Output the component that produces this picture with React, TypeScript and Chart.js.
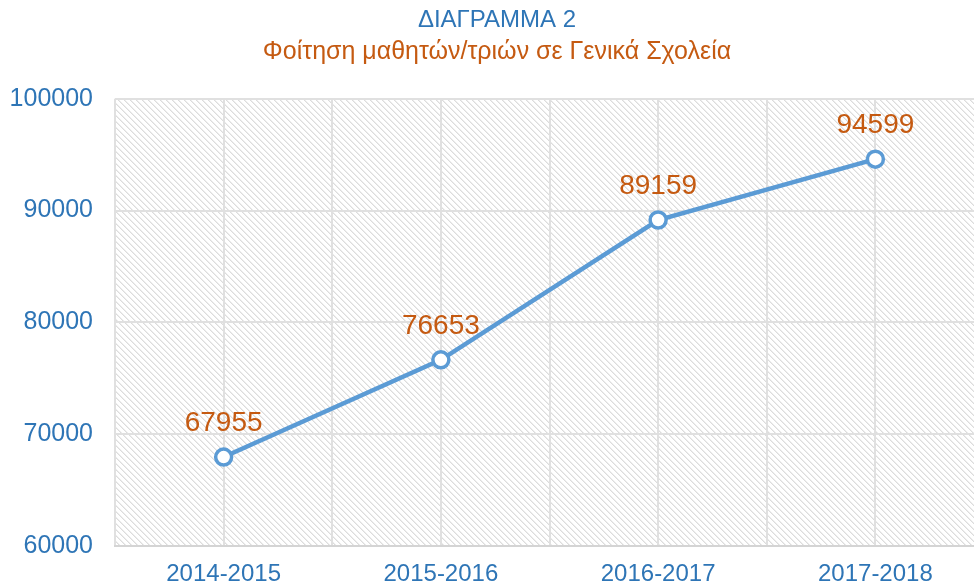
import React, { useEffect, useRef } from "react";
import { Chart, registerables } from "chart.js";

Chart.register(...registerables);

const categories = ["2014-2015", "2015-2016", "2016-2017", "2017-2018"];
const students = [67955, 76653, 89159, 94599];
const yTicks = [60000, 70000, 80000, 90000, 100000];
const titleText = "ΔΙΑΓΡΑΜΜΑ 2";
const subtitleText = "Φοίτηση μαθητών/τριών σε Γενικά Σχολεία";

const FONT = "'Liberation Sans', Arial, sans-serif";
const BLUE = "#2e75b6";
const ORANGE = "#c55a11";
const LINE = "#5b9bd5";

function makePattern(ctx: CanvasRenderingContext2D) {
  const s = 6;
  const c = document.createElement("canvas");
  c.width = s;
  c.height = s;
  const p = c.getContext("2d")!;
  p.fillStyle = "#ffffff";
  p.fillRect(0, 0, s, s);
  for (let i = 0; i < s; i++) {
    p.fillStyle = "#dcdcdc";
    p.fillRect(i, i, 1, 1);
    p.fillStyle = "#ededed";
    p.fillRect((i + 1) % s, i, 1, 1);
  }
  return ctx.createPattern(c, "repeat");
}

const bgPlugin = {
  id: "hatchBg",
  beforeDraw(chart: any) {
    const { ctx, chartArea } = chart;
    const pat = makePattern(ctx);
    ctx.save();
    ctx.fillStyle = pat || "#fff";
    ctx.fillRect(chartArea.left, chartArea.top, chartArea.right - chartArea.left, chartArea.bottom - chartArea.top);
    ctx.restore();
  },
};

const labelPlugin = {
  id: "valueLabels",
  afterDatasetsDraw(chart: any) {
    const { ctx } = chart;
    const meta = chart.getDatasetMeta(0);
    ctx.save();
    ctx.font = `28px ${FONT}`;
    ctx.fillStyle = ORANGE;
    ctx.textAlign = "center";
    ctx.textBaseline = "middle";
    meta.data.forEach((pt: any, i: number) => {
      ctx.fillText(String(students[i]), pt.x, pt.y - 34);
    });
    ctx.restore();
  },
};

export default function App() {
  const ref = useRef<HTMLCanvasElement>(null);
  useEffect(() => {
    if (!ref.current) return;
    const chart = new Chart(ref.current, {
      type: "line",
      data: {
        datasets: [
          {
            data: students.map((v, i) => ({ x: i, y: v })),
            borderColor: LINE,
            borderWidth: 4.5,
            pointRadius: 8,
            pointBackgroundColor: "#ffffff",
            pointBorderColor: LINE,
            pointBorderWidth: 3.5,
            tension: 0,
          },
        ],
      },
      options: {
        animation: false,
        responsive: false,
        layout: { padding: { left: 10, right: 18, top: 0, bottom: 0 } },
        plugins: {
          legend: { display: false },
          tooltip: { enabled: false },
          title: {
            display: true,
            text: titleText,
            color: BLUE,
            font: { family: FONT, size: 24, weight: "normal" },
            padding: { top: 6, bottom: 0 },
          },
          subtitle: {
            display: true,
            text: subtitleText,
            color: ORANGE,
            font: { family: FONT, size: 25, weight: "normal" },
            padding: { top: 2, bottom: 32 },
          },
        },
        scales: {
          x: {
            type: "linear",
            min: -0.5,
            max: categories.length - 0.5,
            afterBuildTicks(scale: any) {
              const t: any[] = [];
              for (let i = 0; i <= categories.length * 2; i++) t.push({ value: -0.5 + i * 0.5 });
              scale.ticks = t;
            },
            afterFit(scale: any) {
              scale.height = 54;
            },
            ticks: {
              autoSkip: false,
              maxRotation: 0,
              color: BLUE,
              padding: 16,
              font: { family: FONT, size: 24, lineHeight: 1 },
              callback: (v: any) => (Number.isInteger(v) ? categories[v] : ""),
            },
            grid: { color: "#e0e0e0", lineWidth: 2, drawTicks: false },
            border: { color: "#d4d4d4", width: 2 },
          },
          y: {
            min: yTicks[0],
            max: yTicks[yTicks.length - 1],
            afterBuildTicks(scale: any) {
              scale.ticks = yTicks.map((v) => ({ value: v }));
            },
            afterFit(scale: any) {
              scale.width = 105;
            },
            ticks: {
              color: BLUE,
              padding: 22,
              font: { family: FONT, size: 25 },
              callback: (v: any) => String(v),
            },
            grid: { color: "#e0e0e0", lineWidth: 2, drawTicks: false },
            border: { display: false },
          },
        },
      },
      plugins: [bgPlugin, labelPlugin],
    } as any);
    return () => chart.destroy();
  }, []);
  return (
    <div style={{ position: "fixed", left: 0, top: 0, width: 974, height: 584, overflow: "hidden", background: "#fff" }}>
      <canvas ref={ref} width={1002} height={600} style={{ display: "block" }} />
    </div>
  );
}
